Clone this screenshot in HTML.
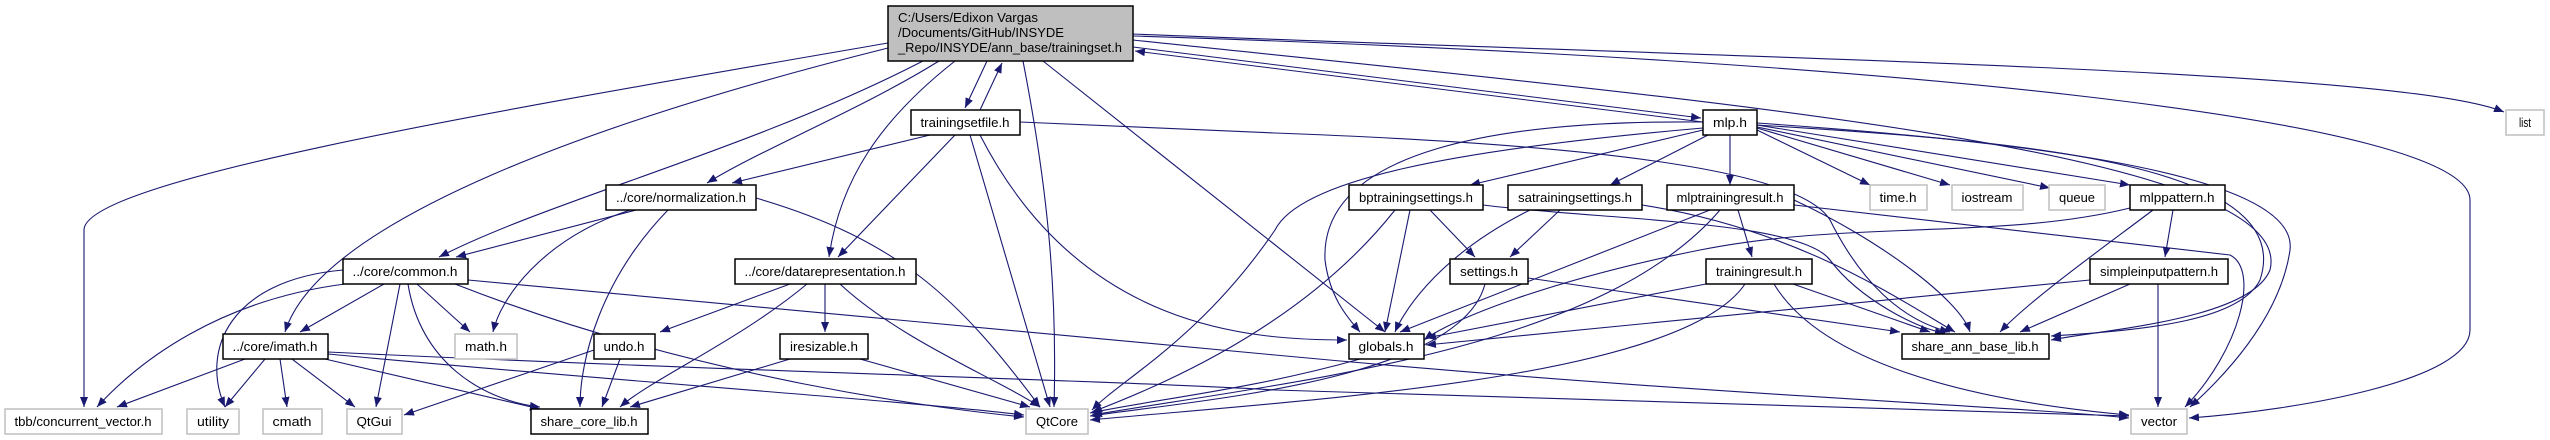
<!DOCTYPE html>
<html><head><meta charset="utf-8"><style>
html,body{margin:0;padding:0;background:#fff;}
svg{display:block}
text{font-family:"Liberation Sans",sans-serif;font-size:13px;fill:#000}
</style></head><body>
<svg width="2550" height="440" viewBox="0 0 2550 440" xmlns="http://www.w3.org/2000/svg">
<defs><marker id="a" markerUnits="userSpaceOnUse" markerWidth="10" markerHeight="8" refX="10" refY="4" orient="auto"><path d="M0,0 L10,4 L0,8 z" fill="#191970"/></marker></defs>
<g fill="none" stroke="#191970" stroke-width="1.1" marker-end="url(#a)">
<path d="M987 61 L965 108"/><path d="M980 110 L1002 63"/>
<path d="M888 43 C500 110,84 180,84 230 L84 407"/>
<path d="M888 48 C600 120,320 220,285 332"/>
<path d="M923 61 C750 150,550 200,439 257"/>
<path d="M939 61 C860 110,760 150,707 183"/>
<path d="M955 61 C880 120,840 180,829 257"/>
<path d="M1023 61 C1050 200,1057 300,1054 407"/>
<path d="M1043 61 L1385 332"/>
<path d="M1133 47 L1701 118"/><path d="M1703 122 L1135 51"/>
<path d="M1133 34 C1800 60,2400 70,2504 112"/>
<path d="M1133 40 C1700 100,2300 150,2270 270 C2250 320,2100 330,2051 340"/>
<path d="M1133 36 C1900 60,2470 120,2470 200 L2470 330 C2470 380,2300 410,2189 418"/>
<path d="M930 135 L732 183"/><path d="M955 135 L838 257"/><path d="M970 135 L1050 407"/>
<path d="M980 135 C1080 330,1250 340,1347 340"/>
<path d="M1020 122 L1275 133 C1600 145,1800 170,1830 220 C1860 280,1900 320,1950 332"/>
<path d="M636 210 L456 257"/><path d="M630 210 C540 240,500 300,493 332"/>
<path d="M668 210 C600 280,580 360,580 407"/><path d="M756 198 C900 240,960 300,1040 407"/>
<path d="M384 284 L300 332"/><path d="M345 284 C220 300,140 360,97 407"/>
<path d="M343 270 C230 280,200 350,225 407"/><path d="M400 284 L376 407"/>
<path d="M408 284 C420 360,480 400,540 407"/><path d="M417 284 L470 332"/>
<path d="M455 284 C700 380,950 410,1024 417"/>
<path d="M468 280 L1275 355 C1700 395,2000 405,2129 418"/>
<path d="M790 284 L660 332"/><path d="M825 284 L825 332"/>
<path d="M807 284 C740 340,650 380,620 407"/><path d="M840 284 C900 340,1000 380,1040 407"/>
<path d="M245 359 L117 407"/><path d="M265 359 L225 407"/><path d="M280 359 L287 407"/>
<path d="M292 359 L355 407"/><path d="M325 359 L540 409"/>
<path d="M328 354 C600 380,900 400,1024 415"/>
<path d="M328 352 C700 370,1100 380,1275 390 C1700 405,2000 410,2129 416"/>
<path d="M594 350 L404 415"/><path d="M620 359 L602 407"/>
<path d="M790 359 L630 407"/><path d="M860 359 L1030 407"/>
<path d="M1360 359 C1250 390,1150 400,1090 413"/>
<path d="M1703 122 C1500 120,1320 150,1325 260 C1330 300,1350 320,1360 332"/>
<path d="M1703 128 C1450 150,1300 180,1275 230 C1200 340,1120 380,1092 410"/>
<path d="M1703 130 L1470 185"/><path d="M1708 135 L1610 185"/><path d="M1730 135 L1730 185"/>
<path d="M1757 130 L1870 185"/><path d="M1757 128 L1950 185"/><path d="M1757 127 L2050 188"/>
<path d="M1757 125 L2130 185"/>
<path d="M1757 125 C2000 140,2300 160,2260 280 C2240 320,2150 330,2051 336"/>
<path d="M1757 123 C2000 140,2300 170,2290 250 C2280 320,2220 380,2190 407"/>
<path d="M1410 210 L1385 332"/><path d="M1430 210 L1475 257"/>
<path d="M1483 205 C1600 220,1800 220,1830 260 C1860 300,1920 330,1945 333"/>
<path d="M1395 210 C1300 330,1150 390,1092 412"/>
<path d="M1560 210 L1510 257"/><path d="M1530 210 C1430 260,1400 320,1395 332"/>
<path d="M1642 205 C1800 230,1900 300,1955 332"/>
<path d="M1738 210 L1752 257"/><path d="M1710 210 L1400 332"/>
<path d="M1720 210 C1600 350,1300 380,1092 415"/>
<path d="M1794 200 C1880 240,1960 300,1970 332"/>
<path d="M1794 205 L2230 255 C2260 270,2240 350,2185 407"/>
<path d="M2130 208 C2000 240,1850 220,1700 250 C1550 280,1450 320,1424 340"/>
<path d="M2153 210 C2100 250,2030 300,2000 332"/><path d="M2173 210 L2165 257"/>
<path d="M1528 278 L1900 332"/><path d="M1485 284 C1460 380,1200 400,1090 416"/>
<path d="M1706 284 L1426 338"/><path d="M1793 284 L1930 332"/>
<path d="M1745 284 C1680 380,1300 400,1090 420"/><path d="M1774 284 C1820 360,1960 400,2129 415"/>
<path d="M2090 280 L1426 345"/><path d="M2130 284 L2020 332"/><path d="M2158 284 L2158 407"/>
</g>
<g stroke-width="1.5">
<rect x="888" y="6" width="245" height="55" fill="#bfbfbf" stroke="#000"/>
<g fill="#fff" stroke="#000">
<rect x="911" y="110" width="109" height="25"/><rect x="606" y="185" width="150" height="25"/>
<rect x="343" y="259" width="125" height="25"/><rect x="735" y="259" width="181" height="25"/>
<rect x="223" y="334" width="105" height="25"/><rect x="594" y="334" width="61" height="25"/>
<rect x="780" y="334" width="88" height="25"/><rect x="531" y="409" width="117" height="25"/>
<rect x="1703" y="110" width="54" height="25"/><rect x="1349" y="185" width="134" height="25"/>
<rect x="1508" y="185" width="134" height="25"/><rect x="1667" y="185" width="127" height="25"/>
<rect x="2130" y="185" width="95" height="25"/><rect x="1450" y="259" width="78" height="25"/>
<rect x="1706" y="259" width="106" height="25"/><rect x="2090" y="259" width="138" height="25"/>
<rect x="1349" y="334" width="75" height="25"/><rect x="1902" y="334" width="147" height="25"/>
</g>
<g fill="#fff" stroke="#bfbfbf">
<rect x="455" y="334" width="62" height="25"/><rect x="5" y="409" width="157" height="25"/>
<rect x="187" y="409" width="52" height="25"/><rect x="263" y="409" width="59" height="25"/>
<rect x="347" y="409" width="55" height="25"/><rect x="1026" y="409" width="62" height="25"/>
<rect x="2506" y="110" width="38" height="25"/><rect x="1870" y="185" width="57" height="25"/>
<rect x="1952" y="185" width="71" height="25"/><rect x="2049" y="185" width="56" height="25"/>
<rect x="2131" y="409" width="56" height="25"/>
</g></g>
<g lengthAdjust="spacingAndGlyphs">
<text x="898" y="22" textLength="140" lengthAdjust="spacingAndGlyphs">C:/Users/Edixon Vargas</text>
<text x="898" y="37" textLength="166" lengthAdjust="spacingAndGlyphs">/Documents/GitHub/INSYDE</text>
<text x="898" y="52" textLength="224" lengthAdjust="spacingAndGlyphs">_Repo/INSYDE/ann_base/trainingset.h</text>
</g>
<g text-anchor="middle">
<text x="965" y="127" textLength="89" lengthAdjust="spacingAndGlyphs">trainingsetfile.h</text>
<text x="681" y="202" textLength="130" lengthAdjust="spacingAndGlyphs">../core/normalization.h</text>
<text x="405" y="276" textLength="105" lengthAdjust="spacingAndGlyphs">../core/common.h</text>
<text x="825" y="276" textLength="161" lengthAdjust="spacingAndGlyphs">../core/datarepresentation.h</text>
<text x="275" y="351" textLength="85" lengthAdjust="spacingAndGlyphs">../core/imath.h</text>
<text x="486" y="351" textLength="42" lengthAdjust="spacingAndGlyphs">math.h</text>
<text x="624" y="351" textLength="41" lengthAdjust="spacingAndGlyphs">undo.h</text>
<text x="824" y="351" textLength="68" lengthAdjust="spacingAndGlyphs">iresizable.h</text>
<text x="83" y="426" textLength="137" lengthAdjust="spacingAndGlyphs">tbb/concurrent_vector.h</text>
<text x="213" y="426" textLength="32" lengthAdjust="spacingAndGlyphs">utility</text>
<text x="292" y="426" textLength="39" lengthAdjust="spacingAndGlyphs">cmath</text>
<text x="374" y="426" textLength="35" lengthAdjust="spacingAndGlyphs">QtGui</text>
<text x="589" y="426" textLength="97" lengthAdjust="spacingAndGlyphs">share_core_lib.h</text>
<text x="1057" y="426" textLength="42" lengthAdjust="spacingAndGlyphs">QtCore</text>
<text x="1730" y="127" textLength="34" lengthAdjust="spacingAndGlyphs">mlp.h</text>
<text x="2525" y="127" textLength="12" lengthAdjust="spacingAndGlyphs">list</text>
<text x="1416" y="202" textLength="114" lengthAdjust="spacingAndGlyphs">bptrainingsettings.h</text>
<text x="1575" y="202" textLength="114" lengthAdjust="spacingAndGlyphs">satrainingsettings.h</text>
<text x="1730" y="202" textLength="107" lengthAdjust="spacingAndGlyphs">mlptrainingresult.h</text>
<text x="1898" y="202" textLength="37" lengthAdjust="spacingAndGlyphs">time.h</text>
<text x="1987" y="202" textLength="51" lengthAdjust="spacingAndGlyphs">iostream</text>
<text x="2077" y="202" textLength="36" lengthAdjust="spacingAndGlyphs">queue</text>
<text x="2177" y="202" textLength="75" lengthAdjust="spacingAndGlyphs">mlppattern.h</text>
<text x="1489" y="276" textLength="58" lengthAdjust="spacingAndGlyphs">settings.h</text>
<text x="1759" y="276" textLength="86" lengthAdjust="spacingAndGlyphs">trainingresult.h</text>
<text x="2159" y="276" textLength="118" lengthAdjust="spacingAndGlyphs">simpleinputpattern.h</text>
<text x="1386" y="351" textLength="55" lengthAdjust="spacingAndGlyphs">globals.h</text>
<text x="1975" y="351" textLength="127" lengthAdjust="spacingAndGlyphs">share_ann_base_lib.h</text>
<text x="2159" y="426" textLength="36" lengthAdjust="spacingAndGlyphs">vector</text>
</g>
</svg>
</body></html>
